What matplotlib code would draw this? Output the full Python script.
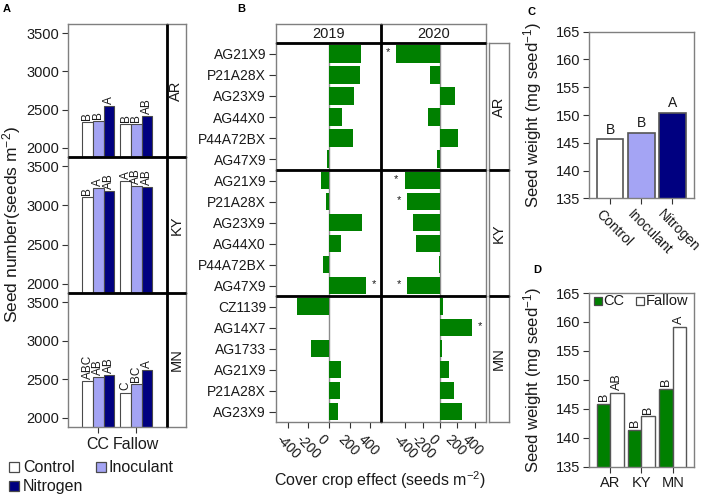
import matplotlib
matplotlib.use('Agg')
import matplotlib.pyplot as plt
from matplotlib.patches import Rectangle
from matplotlib.lines import Line2D
from matplotlib.transforms import ScaledTranslation
import numpy as np

plt.rcParams['font.family'] = ['Liberation Sans', 'DejaVu Sans']
plt.rcParams['mathtext.fontset'] = 'custom'
plt.rcParams['mathtext.rm'] = 'Liberation Sans'
plt.rcParams['mathtext.it'] = 'Liberation Sans:italic'
plt.rcParams['mathtext.bf'] = 'Liberation Sans:bold'
plt.rcParams['axes.unicode_minus'] = False

# ---------------- data ----------------
treatments = ['Control', 'Inoculant', 'Nitrogen']
systems = ['CC', 'Fallow']
sites = ['AR', 'KY', 'MN']

# Panel A: seed number (seeds m-2)
ar_cc = [2340, 2354, 2552]
ar_fallow = [2315, 2315, 2418]
ky_cc = [3103, 3224, 3181]
ky_fallow = [3310, 3250, 3237]
mn_cc = [2482, 2526, 2551]
mn_fallow = [2327, 2435, 2620]
ar_cc_letters = ['B', 'B', 'A']
ar_fallow_letters = ['B', 'B', 'AB']
ky_cc_letters = ['B', 'A', 'AB']
ky_fallow_letters = ['A', 'AB', 'AB']
mn_cc_letters = ['ABC', 'AB', 'AB']
mn_fallow_letters = ['C', 'BC', 'A']
seed_number_ticks = [2000, 2500, 3000, 3500]

# Panel B: cover crop effect (seeds m-2) by variety
years = ['2019', '2020']
varieties_ar = ['AG21X9', 'P21A28X', 'AG23X9', 'AG44X0', 'P44A72BX', 'AG47X9']
varieties_ky = ['AG21X9', 'P21A28X', 'AG23X9', 'AG44X0', 'P44A72BX', 'AG47X9']
varieties_mn = ['CZ1139', 'AG14X7', 'AG1733', 'AG21X9', 'P21A28X', 'AG23X9']
effect_2019_ar = [308, 304, 243, 126, 233, -19]
effect_2019_ky = [-80, -29, 318, 119, -55, 356]
effect_2019_mn = [-313, 0, -175, 117, 110, 85]
effect_2020_ar = [-503, -110, 176, -133, 210, -29]
effect_2020_ky = [-410, -376, -310, -280, -14, -380]
effect_2020_mn = [31, 370, 27, 104, 162, 251]
sig_2019_ar = [0, 0, 0, 0, 0, 0]
sig_2019_ky = [0, 0, 0, 0, 0, 1]
sig_2019_mn = [0, 0, 0, 0, 0, 0]
sig_2020_ar = [1, 0, 0, 0, 0, 0]
sig_2020_ky = [1, 1, 0, 0, 0, 1]
sig_2020_mn = [0, 1, 0, 0, 0, 0]
effect_ticks = [-400, -200, 0, 200, 400]

# Panel C: seed weight by treatment (mg seed-1)
weight_by_treatment = [145.6, 146.8, 150.4]
weight_treatment_letters = ['B', 'B', 'A']

# Panel D: seed weight by site and system
weight_cc = [145.8, 141.3, 148.5]
weight_fallow = [147.7, 143.7, 159.1]
weight_cc_letters = ['B', 'B', 'B']
weight_fallow_letters = ['AB', 'B', 'A']
weight_ticks = [135, 140, 145, 150, 155, 160, 165]

treat_colors = ['white', '#A4A4F4', '#000080']
GREEN = '#008000'
GRAY = '#7f7f7f'
TXT = '#1a1a1a'
EDGE = '#4a4a4a'

# ---------------- figure helpers ----------------
W, H = 708, 496
fig = plt.figure(figsize=(W / 100, H / 100), dpi=100)


def add_ax(x0, y0, x1, y1):
    return fig.add_axes([x0 / W, 1 - y1 / H, (x1 - x0) / W, (y1 - y0) / H])


def fline(xs, ys, lw=2.0, color='black'):
    fig.add_artist(Line2D([x / W for x in xs], [1 - y / H for y in ys],
                          lw=lw, color=color, solid_capstyle='butt', zorder=10))


def style_spines(ax, color=GRAY, lw=1.0):
    for s in ax.spines.values():
        s.set_color(color)
        s.set_linewidth(lw)


def strip(x0, y0, x1, y1, label, rotation):
    ax = add_ax(x0, y0, x1, y1)
    ax.set_xticks([])
    ax.set_yticks([])
    style_spines(ax)
    ax.text(0.5, 0.5, label, rotation=rotation, ha='center', va='center',
            fontsize=10.5, color=TXT, transform=ax.transAxes)
    return ax


def fig_square(x, y, size, face, edge=EDGE):
    fig.add_artist(Rectangle((x / W, 1 - (y + size) / H), size / W, size / H,
                             facecolor=face, edgecolor=edge, lw=0.9,
                             transform=fig.transFigure))


def shift_labels(labels, dx_px, dy_px=0):
    off = ScaledTranslation(dx_px / 100, dy_px / 100, fig.dpi_scale_trans)
    for lab in labels:
        lab.set_transform(lab.get_transform() + off)

# ---------------- Panel A ----------------
rowsA = [(24, 157), (157, 293), (293, 427)]
cc_vals = [ar_cc, ky_cc, mn_cc]
fa_vals = [ar_fallow, ky_fallow, mn_fallow]
cc_lets = [ar_cc_letters, ky_cc_letters, mn_cc_letters]
fa_lets = [ar_fallow_letters, ky_fallow_letters, mn_fallow_letters]
bwA = 0.28
for i, (y0, y1) in enumerate(rowsA):
    ax = add_ax(68, y0, 166.5, y1)
    for gpos, vals, lets in [(1, cc_vals[i], cc_lets[i]), (2, fa_vals[i], fa_lets[i])]:
        for k in range(3):
            xp = gpos + (k - 1) * bwA
            ax.bar(xp, vals[k], width=bwA, color=treat_colors[k],
                   edgecolor=EDGE, linewidth=0.8)
            ax.annotate(lets[k], (xp, vals[k]), xytext=(0, 1.5),
                        textcoords='offset points', rotation=90,
                        ha='center', va='bottom', fontsize=8.5, color=TXT)
    ax.set_xlim(0.21, 2.79)
    ax.set_ylim(1880, 3620)
    ax.set_yticks(seed_number_ticks)
    ax.set_yticklabels([str(t) for t in seed_number_ticks])
    ax.tick_params(axis='y', length=4.5, color='#333333', labelsize=10.5,
                   labelcolor=TXT, pad=2)
    style_spines(ax)
    if i == 2:
        ax.set_xticks([1, 2])
        ax.set_xticklabels(systems)
        ax.tick_params(axis='x', length=4, color='#333333', labelsize=11.5,
                       labelcolor=TXT, pad=3)
    else:
        ax.set_xticks([])
    strip(166.5, y0, 186, y1, sites[i], 90)

fline([166.5, 166.5], [24, 427])
fline([68, 186], [157, 157])
fline([68, 186], [293, 293])
fig.text(12 / W, 1 - 225 / H, r'Seed number(seeds m$^{-2}$)', rotation=90,
         ha='center', va='center', fontsize=12.5, color=TXT)
fig.text(7 / W, 1 - 9 / H, 'A', fontsize=8, fontweight='bold', ha='center', va='center')

# legend for A
fig_square(9, 462, 10, treat_colors[0])
fig.text(23 / W, 1 - 467 / H, treatments[0], fontsize=11.5, va='center', color=TXT)
fig_square(96, 462, 10, treat_colors[1])
fig.text(109 / W, 1 - 467 / H, treatments[1], fontsize=11.5, va='center', color=TXT)
fig_square(9, 481, 10, treat_colors[2])
fig.text(23 / W, 1 - 486 / H, treatments[2], fontsize=11.5, va='center', color=TXT)

# ---------------- Panel B ----------------
rowsB = [(43, 170), (170, 296), (296, 422)]
colsB = [(275.7, 381), (381, 486)]
xlimsB = [(-517, 505), (-682, 532)]
effects = {('2019', 0): effect_2019_ar, ('2019', 1): effect_2019_ky, ('2019', 2): effect_2019_mn,
           ('2020', 0): effect_2020_ar, ('2020', 1): effect_2020_ky, ('2020', 2): effect_2020_mn}
sigs = {('2019', 0): sig_2019_ar, ('2019', 1): sig_2019_ky, ('2019', 2): sig_2019_mn,
        ('2020', 0): sig_2020_ar, ('2020', 1): sig_2020_ky, ('2020', 2): sig_2020_mn}
var_lists = [varieties_ar, varieties_ky, varieties_mn]
for c, yr in enumerate(years):
    x0, x1 = colsB[c]
    strip(x0, 24, x1, 43, yr, 0)
    for r, (y0, y1) in enumerate(rowsB):
        ax = add_ax(x0, y0, x1, y1)
        vals = effects[(yr, r)]
        ypos = np.arange(len(vals))
        ax.axvline(0, color='#8c8c8c', lw=1.0, zorder=1)
        ax.barh(ypos, vals, height=0.85, color=GREEN, edgecolor='none', zorder=2)
        for yy, v, s in zip(ypos, vals, sigs[(yr, r)]):
            if s:
                off = 6 if v > 0 else -6
                ax.annotate('*', (v, yy), xytext=(off, 1), textcoords='offset points',
                            ha='center', va='center', fontsize=8, color=TXT)
        ax.set_xlim(*xlimsB[c])
        ax.set_ylim(5.5, -0.5)
        style_spines(ax)
        if c == 0:
            ax.set_yticks(ypos)
            ax.set_yticklabels(var_lists[r])
            ax.tick_params(axis='y', length=5, color='#333333', labelsize=10,
                           labelcolor=TXT, pad=2)
        else:
            ax.set_yticks([])
        if r == 2:
            ax.set_xticks(effect_ticks)
            labs = ax.set_xticklabels([str(t) for t in effect_ticks], rotation=-45,
                                      ha='left', va='top', rotation_mode='anchor')
            ax.tick_params(axis='x', length=4, color='#333333', labelsize=10,
                           labelcolor=TXT, pad=3)
            shift_labels(labs, -5)
        else:
            ax.set_xticks([])
for r, (y0, y1) in enumerate(rowsB):
    strip(489, y0, 509, y1, sites[r], 90)

fline([381, 381], [24, 422])
fline([275.7, 486], [43, 43])
fline([275.7, 486], [170, 170])
fline([275.7, 486], [296, 296])
fline([489, 509], [170, 170])
fline([489, 509], [296, 296])
fig.text(380 / W, 1 - 480 / H, r'Cover crop effect (seeds m$^{-2}$)', ha='center',
         va='center', fontsize=11.5, color=TXT)
fig.text(241 / W, 1 - 9 / H, 'B', fontsize=8, fontweight='bold', ha='center', va='center')

# ---------------- Panel C ----------------
axC = add_ax(589, 31.7, 694, 198.3)
xc = np.arange(1, 4)
for k in range(3):
    axC.bar(xc[k], weight_by_treatment[k], width=0.86, color=treat_colors[k],
            edgecolor='#555555', linewidth=1.2)
    axC.annotate(weight_treatment_letters[k], (xc[k], weight_by_treatment[k]),
                 xytext=(0, 2), textcoords='offset points', ha='center', va='bottom',
                 fontsize=10, color=TXT)
axC.set_xlim(0.32, 3.7)
axC.set_ylim(135, 165)
axC.set_yticks(weight_ticks)
axC.set_xticks(xc)
labsC = axC.set_xticklabels(treatments, rotation=-45, ha='left', va='top',
                            rotation_mode='anchor')
axC.tick_params(axis='both', length=4.5, color='#333333', labelsize=10.5, labelcolor=TXT, pad=2)
axC.tick_params(axis='x', labelsize=10)
shift_labels(labsC, -7)
style_spines(axC)
axC.set_ylabel(r'Seed weight (mg seed$^{-1}$)', fontsize=12, color=TXT, labelpad=8)
fig.text(532 / W, 1 - 12 / H, 'C', fontsize=8, fontweight='bold', ha='center', va='center')

# ---------------- Panel D ----------------
axD = add_ax(589, 293, 694, 466.7)
xd = np.arange(1, 4)
bwD = 0.43
axD.bar(xd - bwD / 2, weight_cc, width=bwD, color=GREEN, edgecolor='#555555', linewidth=1.0)
axD.bar(xd + bwD / 2, weight_fallow, width=bwD, color='white', edgecolor='#555555', linewidth=1.0)
for k in range(3):
    axD.annotate(weight_cc_letters[k], (xd[k] - bwD / 2, weight_cc[k]), xytext=(0, 2),
                 textcoords='offset points', rotation=90, ha='center', va='bottom',
                 fontsize=9, color=TXT)
    axD.annotate(weight_fallow_letters[k], (xd[k] + bwD / 2, weight_fallow[k]), xytext=(0, 2),
                 textcoords='offset points', rotation=90, ha='center', va='bottom',
                 fontsize=9, color=TXT)
axD.set_xlim(0.32, 3.68)
axD.set_ylim(135, 165)
axD.set_yticks(weight_ticks)
axD.set_xticks(xd)
axD.set_xticklabels(sites)
axD.tick_params(axis='both', length=4.5, color='#333333', labelsize=10.5, labelcolor=TXT, pad=2)
style_spines(axD)
axD.set_ylabel(r'Seed weight (mg seed$^{-1}$)', fontsize=12, color=TXT, labelpad=8)
fig.text(537 / W, 1 - 270 / H, 'D', fontsize=8, fontweight='bold', ha='center', va='center')
# legend D
fig_square(594, 297, 8, GREEN)
fig.text(603 / W, 1 - 301 / H, systems[0], fontsize=10.5, va='center', color=TXT)
fig_square(636, 297, 8, 'white')
fig.text(646 / W, 1 - 301 / H, systems[1], fontsize=10.5, va='center', color=TXT)

fig.savefig('out.png', dpi=100)
